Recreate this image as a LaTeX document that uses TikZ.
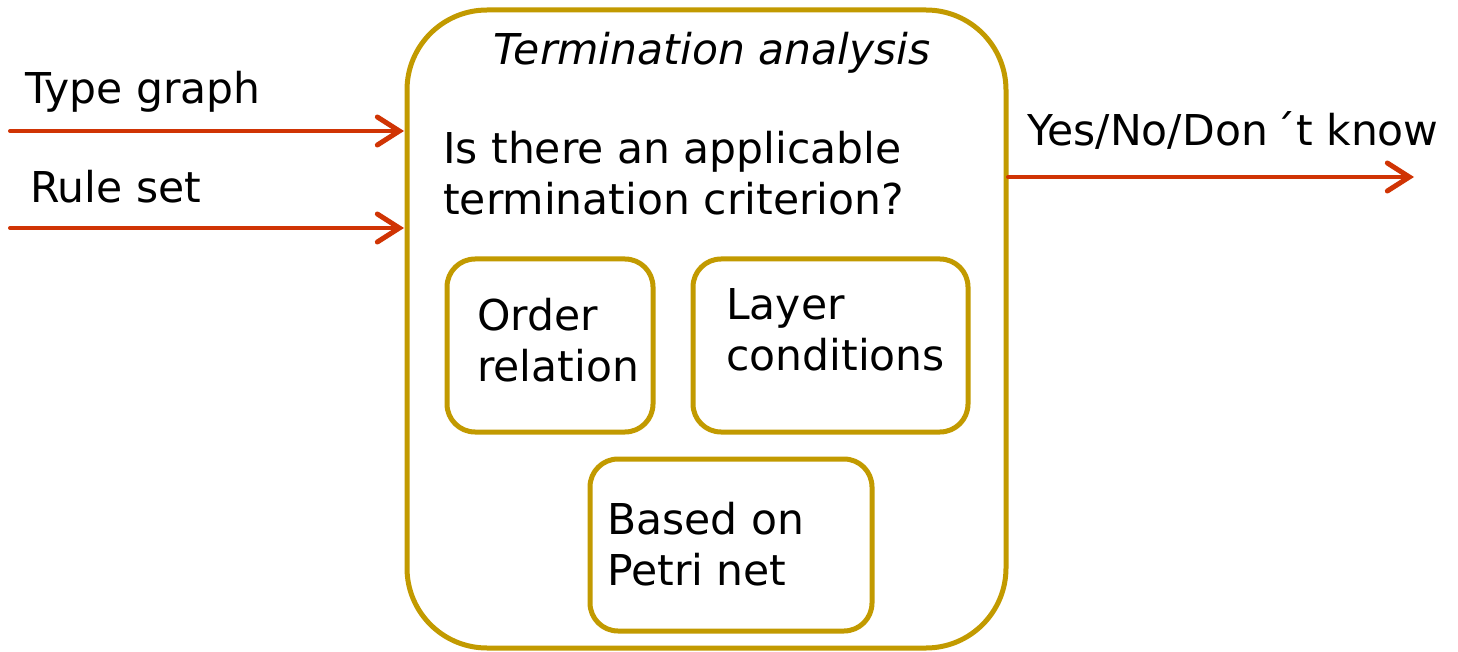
\documentclass[tikz,border=0pt]{standalone}
\usepackage{fontspec}
\setmainfont{DejaVu Sans}
\usetikzlibrary{arrows.meta}
\definecolor{frame}{RGB}{194,154,0}
\definecolor{flow}{RGB}{208,52,4}
\begin{document}
\begin{tikzpicture}[x=1pt,y=-1pt,
  txt/.style={inner sep=0pt,anchor=west,align=left,font=\fontsize{42.5}{51}\selectfont},
  outerbox/.style={draw=frame,line width=5pt,rounded corners=80pt},
  critbox/.style={draw=frame,line width=5pt,rounded corners=28pt},
  flowarrow/.style={draw=flow,line width=4pt,line cap=round,-{Straight Barb[length=22pt,width=28pt,line width=5pt,line cap=round]}}]
\useasboundingbox (0,0) rectangle (1458,652);
% main analysis box
\draw[outerbox] (407,10) rectangle (1006,648);
\coordinate (inA) at (404,131);
\coordinate (inB) at (404,228);
\coordinate (outR) at (1008,177);
\coordinate (srcA) at (10,131);
\coordinate (srcB) at (10,228);
\coordinate (dst) at (1414,177);
\node[txt,font=\fontsize{42.5}{51}\selectfont\itshape,anchor=center] (title) at (712,53) {Termination analysis};
\node[txt] (q) at (443,173) {Is there an applicable\\termination criterion?};
% criteria boxes
\draw[critbox] (447,259) rectangle (653,432);
\draw[critbox] (693,259) rectangle (968,432);
\draw[critbox] (590,459) rectangle (872,631);
\node[txt] (order) at (477,340) {Order\\relation};
\node[txt] (layer) at (726,330) {Layer\\conditions};
\node[txt] (petri) at (607,544) {Based on\\Petri net};
% inputs and output
\node[txt] (tg) at (25,92) {Type graph};
\node[txt] (rs) at (30,187) {Rule set};
\node[txt] (ans) at (1027,130) {Yes/No/Don\,´t know};
\draw[flowarrow] (srcA) -- (inA);
\draw[flowarrow] (srcB) -- (inB);
\draw[flowarrow] (outR) -- (dst);
\end{tikzpicture}
\end{document}
